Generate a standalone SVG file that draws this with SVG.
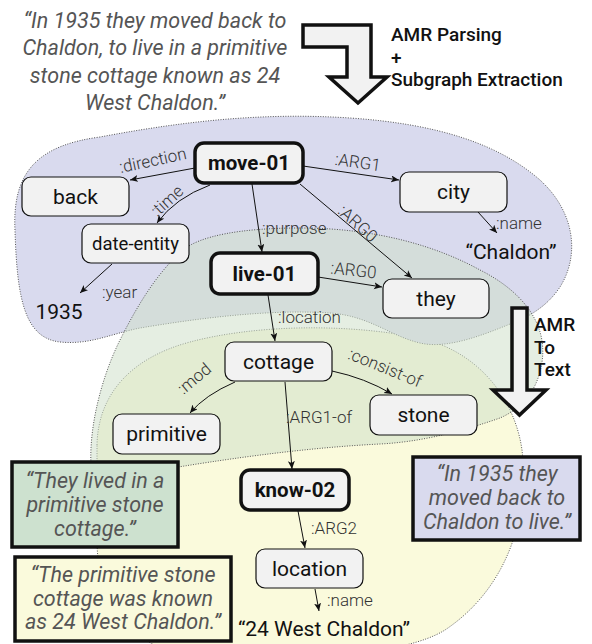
<svg xmlns="http://www.w3.org/2000/svg" width="592" height="644" viewBox="0 0 592 644">
<defs>
<style>
.blob{stroke:#555;stroke-width:1;stroke-dasharray:1 1.5}
.node{fill:#f2f2f2;stroke:#111;stroke-width:1.2}
.bold{fill:#f2f2f2;stroke:#111;stroke-width:3.5}
.nl{font-family:Roboto,"Liberation Sans",sans-serif;font-size:21px;fill:#111;text-anchor:middle}
.bl{font-family:Roboto,"Liberation Sans",sans-serif;font-size:20.5px;font-weight:bold;fill:#111;text-anchor:middle}
.el{font-family:Roboto,"Liberation Sans",sans-serif;font-size:17px;font-weight:300;fill:#333}
.it{font-family:Roboto,"Liberation Sans",sans-serif;font-size:21.5px;font-style:italic;fill:#555;text-anchor:middle}
.hd{font-family:Roboto,"Liberation Sans",sans-serif;font-size:19px;font-weight:500;fill:#111}
.edge{fill:none;stroke:#111;stroke-width:1;marker-end:url(#ah)}
.tbox{stroke:#111;stroke-width:3.5}
</style>
<marker id="ah" markerUnits="userSpaceOnUse" markerWidth="10" markerHeight="8" refX="8" refY="3.5" orient="auto">
<path d="M0,0 L8,3.5 L0,7 L2,3.5 z" fill="#111"/>
</marker>
</defs>
<rect width="592" height="644" fill="#ffffff"/>

<g id="blobs">
<path id="blob-yellow" class="blob" fill="#fafadc" d="M97,445 C98,395 130,358 190,342 C250,326 340,322 420,338 C480,352 515,400 522,450 C530,520 505,590 445,630 C405,655 300,662 200,657 C130,652 97,600 97,540 Z"/>
<path id="blob-purple" class="blob" fill="#d9daee" d="M15,230 C12,170 40,145 100,137 C180,122 260,112 350,118 C440,124 500,145 540,180 C575,212 580,255 560,287 C550,302 537,312 520,320 C490,332 450,350 420,343 C390,336 370,316 330,313 C270,309 200,318 140,328 C110,334 90,345 60,342 C25,338 17,300 15,230 Z"/>
<path id="blob-green" class="blob" fill="#d0e0ca" fill-opacity="0.55" d="M183,250 C200,236 240,228 300,228 C380,228 440,248 480,270 C520,290 548,322 542,362 C537,395 518,410 500,418 C460,432 420,442 380,444 C300,448 220,460 160,470 C130,476 105,487 93,482 C85,440 100,380 120,340 C140,300 160,270 183,250 Z"/>
</g>

<g id="top-sentence">
<text class="it" x="155" y="28">“In 1935 they moved back to</text>
<text class="it" x="155" y="55">Chaldon, to live in a primitive</text>
<text class="it" x="155" y="83">stone cottage known as 24</text>
<text class="it" x="155" y="110">West Chaldon.”</text>
</g>

<g id="arrow-parsing">
<polygon points="303,25 371,25 371,77 387,77 358,103 329,77 347,77 347,47 303,47" fill="#f2f2f2" stroke="#111" stroke-width="3.5" stroke-linejoin="miter"/>
<text class="hd" x="391" y="41">AMR Parsing</text>
<text class="hd" x="391" y="63.5">+</text>
<text class="hd" x="391" y="86">Subgraph Extraction</text>
</g>

<g id="arrow-totext">
<polygon points="512,308 527,308 527,390 546,390 519.5,415 493,390 512,390" fill="#f2f2f2" stroke="#111" stroke-width="3.5"/>
<text class="hd" x="534" y="331">AMR</text>
<text class="hd" x="534" y="353.5">To</text>
<text class="hd" x="534" y="376">Text</text>
</g>

<g id="connectors">
<path class="edge" d="M195,168 L130,180"/>
<path class="edge" d="M210,185 Q175,198 157,223"/>
<path class="edge" d="M112,264 L80,293"/>
<path class="edge" d="M252,184 L262,252"/>
<path class="edge" d="M303,166 L399,180"/>
<path class="edge" d="M300,184 L412,278"/>
<path class="edge" d="M478,212 L497,233"/>
<path class="edge" d="M318,277 L382,287"/>
<path class="edge" d="M268,295 L275,341"/>
<path class="edge" d="M235,382 Q205,395 190,413"/>
<path class="edge" d="M332,371 Q365,378 392,394"/>
<path class="edge" d="M285,382 L292,469"/>
<path class="edge" d="M298,511 L305,548"/>
<path class="edge" d="M315,589 L319,611"/>
<text class="el" text-anchor="middle" transform="translate(154,166) rotate(-12)">:direction</text>
<text class="el" text-anchor="middle" transform="translate(171,205) rotate(-42)">:time</text>
<text class="el" x="102" y="298">:year</text>
<text class="el" x="262" y="234">:purpose</text>
<text class="el" text-anchor="middle" transform="translate(357,168) rotate(8)">:ARG1</text>
<text class="el" text-anchor="middle" transform="translate(354,228) rotate(42)">:ARG0</text>
<text class="el" x="496" y="229">:name</text>
<text class="el" text-anchor="middle" transform="translate(353,276) rotate(6)">:ARG0</text>
<text class="el" x="278" y="323">:location</text>
<text class="el" text-anchor="middle" transform="translate(198,383) rotate(-40)">:mod</text>
<text class="el" text-anchor="middle" transform="translate(383,373) rotate(22)">:consist-of</text>
<text class="el" x="286" y="423">:ARG1-of</text>
<text class="el" x="311" y="534">:ARG2</text>
<text class="el" x="327" y="606">:name</text>
</g>

<g id="move-01"><rect class="bold" x="195" y="143" width="108" height="40" rx="9"/><text class="bl" x="249" y="170">move-01</text></g>
<g id="back"><rect class="node" x="22" y="177" width="107" height="39" rx="9"/><text class="nl" x="75.5" y="204">back</text></g>
<g id="date-entity"><rect class="node" x="82" y="224" width="107" height="39" rx="9"/><text class="nl" style="font-size:18.5px" x="135.5" y="250">date-entity</text></g>
<g id="n1935"><text class="nl" x="59" y="319">1935</text></g>
<g id="city"><rect class="node" x="400" y="172" width="107" height="40" rx="9"/><text class="nl" x="453.5" y="199">city</text></g>
<g id="chaldon"><text class="nl" x="511" y="259">“Chaldon”</text></g>
<g id="live-01"><rect class="bold" x="211" y="253" width="107" height="41" rx="9"/><text class="bl" x="264.5" y="281">live-01</text></g>
<g id="they"><rect class="node" x="383" y="279" width="106" height="39" rx="9"/><text class="nl" x="436" y="306">they</text></g>
<g id="cottage"><rect class="node" x="225" y="342" width="107" height="39" rx="9"/><text class="nl" x="278.5" y="369">cottage</text></g>
<g id="primitive"><rect class="node" x="113" y="414" width="107" height="40" rx="9"/><text class="nl" x="166.5" y="441">primitive</text></g>
<g id="stone"><rect class="node" x="370" y="395" width="107" height="40" rx="9"/><text class="nl" x="423.5" y="422">stone</text></g>
<g id="know-02"><rect class="bold" x="241" y="470" width="108" height="40" rx="9"/><text class="bl" x="295" y="497">know-02</text></g>
<g id="location"><rect class="node" x="256" y="549" width="107" height="39" rx="9"/><text class="nl" x="309.5" y="576">location</text></g>
<g id="west-chaldon"><text class="nl" x="324" y="636">“24 West Chaldon”</text></g>

<g id="text-green"><rect class="tbox" fill="#cde1cf" x="12" y="462" width="166" height="85"/>
<text class="it" x="95" y="488">“They lived in a</text><text class="it" x="95" y="512">primitive stone</text><text class="it" x="95" y="536">cottage.”</text></g>
<g id="text-yellow"><rect class="tbox" fill="#fafadc" x="15" y="557" width="216" height="84"/>
<text class="it" x="123" y="582">“The primitive stone</text><text class="it" x="123" y="606">cottage was known</text><text class="it" x="123" y="629">as 24 West Chaldon.”</text></g>
<g id="text-purple"><rect class="tbox" fill="#d9daee" x="413" y="457" width="167" height="83"/>
<text class="it" x="497" y="481">“In 1935 they</text><text class="it" x="497" y="505">moved back to</text><text class="it" x="497" y="529">Chaldon to live.”</text></g>
</svg>
